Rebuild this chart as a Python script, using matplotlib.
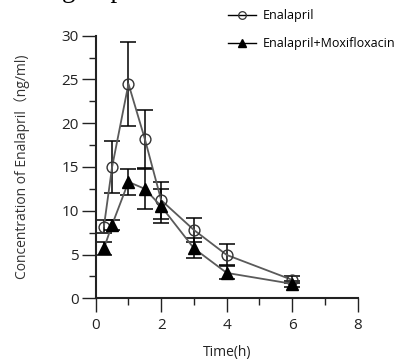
import numpy as np
import matplotlib.pyplot as plt
from matplotlib.ticker import MultipleLocator
from matplotlib.lines import Line2D

# sampling times and concentrations (ng/ml), mean and SD
time_h = [0.25, 0.5, 1, 1.5, 2, 3, 4, 6]
enal_mean = [8.2, 15.0, 24.5, 18.2, 11.2, 7.8, 4.95, 2.1]
enal_sd = [0.75, 3.0, 4.8, 3.3, 2.1, 1.35, 1.2, 0.4]
moxi_mean = [5.7, 8.4, 13.3, 12.5, 10.5, 5.7, 2.9, 1.65]
moxi_sd = [0.75, 0.6, 1.5, 2.25, 1.95, 1.15, 0.75, 0.33]

labels = ['Enalapril', 'Enalapril+Moxifloxacin']
xticks = [0, 2, 4, 6, 8]
yticks = [0, 5, 10, 15, 20, 25, 30]

plt.rcParams['font.family'] = ['Open Sans', 'Noto Sans CJK SC', 'DejaVu Sans']

fig = plt.figure(figsize=(4.01, 3.62), dpi=100)
ax = fig.add_axes([0.2387, 0.176, 0.6534, 0.7254])

line_col = '#5a5a5a'
ax.plot(time_h, enal_mean, color=line_col, lw=1.3, marker='o', ms=7.8,
        mfc='none', mec='#333333', mew=1.0, zorder=3)
ax.plot(time_h, moxi_mean, color=line_col, lw=1.3, marker='^', ms=8.5,
        mfc='black', mec='black', zorder=3)
ax.errorbar(time_h, enal_mean, yerr=enal_sd, fmt='none', ecolor='black',
            elinewidth=1.1, capsize=5.8, capthick=1.1, zorder=2)
ax.errorbar(time_h, moxi_mean, yerr=moxi_sd, fmt='none', ecolor='black',
            elinewidth=1.1, capsize=5.8, capthick=1.1, zorder=2)

ax.set_xlim(0, 8)
ax.set_ylim(0, 30)
ax.set_xticks(xticks)
ax.set_yticks(yticks)
ax.xaxis.set_minor_locator(MultipleLocator(1))
ax.yaxis.set_minor_locator(MultipleLocator(2.5))

ax.spines['right'].set_visible(False)
ax.spines['top'].set_visible(False)
for s in ['left', 'bottom']:
    ax.spines[s].set_linewidth(1.5)
    ax.spines[s].set_color('#222222')
ax.tick_params(which='major', length=10, width=1.0, color='#222222',
               labelsize=11, labelcolor='#222222')
ax.tick_params(which='minor', length=4.7, width=1.0, color='#222222')
ax.tick_params(axis='y', which='major', pad=2)
ax.tick_params(axis='x', which='major', pad=4)

ax.set_xlabel('Time(h)', fontsize=10, color='#222222')
ax.xaxis.set_label_coords(0.5, -0.178)
ax.xaxis.label.set_va('top')
ax.set_ylabel('Concentration of Enalapril（ng/ml)', fontsize=10, color='#333333')
ax.yaxis.set_label_coords(-0.25, 0.5)

# legend handles: black line, small marker
h1 = Line2D([], [], color='black', lw=1.0, marker='o', ms=5.5,
            mfc='none', mec='#333333', mew=0.9)
h2 = Line2D([], [], color='black', lw=1.0, marker='^', ms=6,
            mfc='black', mec='black')
fig.legend([h1, h2], labels, loc='upper left',
           bbox_to_anchor=(228 / 401, 1 - 9 / 362), frameon=False,
           fontsize=9, handlelength=2.2, handletextpad=0.55,
           labelspacing=1.2, borderpad=0, borderaxespad=0)

# title above is cut off in the source image, only descenders show
fig.text(62 / 401, 1 + 3 / 362, 'group', family='Liberation Serif',
         fontsize=19.5, va='baseline', ha='left')

fig.savefig('out.png', dpi=100)
